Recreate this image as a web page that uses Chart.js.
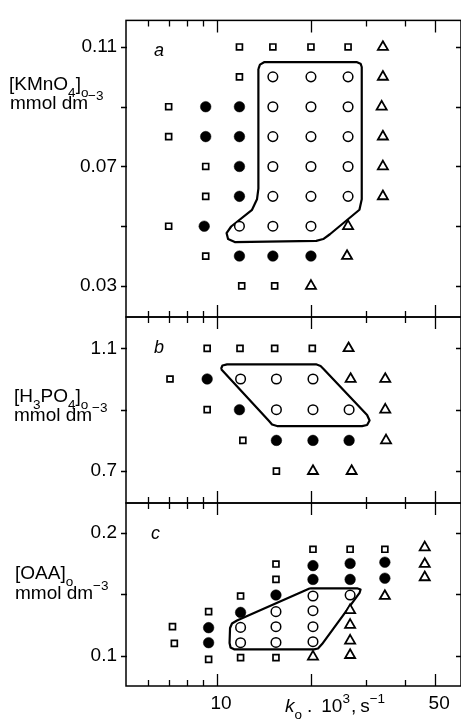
<!DOCTYPE html>
<html>
<head>
<meta charset="utf-8">
<script src="https://cdn.jsdelivr.net/npm/chart.js@4.4.1/dist/chart.umd.min.js"></script>
<style>
  html, body { margin: 0; padding: 0; background: #fff; }
  body { width: 461px; height: 724px; position: relative; overflow: hidden; }
  canvas { position: absolute; left: 0; top: 0; }
</style>
</head>
<body>
<canvas id="panel-a" width="461" height="724"></canvas>
<canvas id="panel-b" width="461" height="724"></canvas>
<canvas id="panel-c" width="461" height="724"></canvas>
<script>
'use strict';

/* ===================================================
   Data
   x = k0 . 10^3 (s^-1), log axis shared by the three panels
   =================================================== */
const xRange = [5.11, 60.5];
const xTickValues = [6, 7, 8, 9, 10, 20, 30, 40, 50];
const xLongTicks = [10, 20, 50];
const xLabelledTicks = [10, 50];
const xTickLabels = ['10', '50'];

// panel a : [KMnO4]o
const aRange = [0.0196, 0.1189];
const aTickValues = [0.03, 0.05, 0.07, 0.09, 0.11];
const aLabelledTicks = [0.03, 0.07, 0.11];
const aTickLabels = ['0.03', '0.07', '0.11'];
const aSquares = [[11.8, 0.11], [15.1, 0.11], [20, 0.11], [26.3, 0.11], [11.8, 0.10],
  [7, 0.09], [7, 0.08], [9.2, 0.07], [9.2, 0.06], [7, 0.05], [9.2, 0.04], [12, 0.03], [15.3, 0.03]];
const aFilled = [[9.2, 0.09], [11.8, 0.09], [9.2, 0.08], [11.8, 0.08], [11.8, 0.07], [11.8, 0.06],
  [9.1, 0.05], [11.8, 0.04], [15.1, 0.04], [20, 0.04]];
const aOpen = [[15.1, 0.10], [20, 0.10], [26.3, 0.10], [15.1, 0.09], [20, 0.09], [26.3, 0.09],
  [15.1, 0.08], [20, 0.08], [26.3, 0.08], [15.1, 0.07], [20, 0.07], [26.3, 0.07],
  [15.1, 0.06], [20, 0.06], [26.3, 0.06], [11.8, 0.05], [15.1, 0.05], [20, 0.05]];
const aTriangles = [[34, 0.11], [34, 0.10], [33.7, 0.09], [34, 0.08], [34, 0.07], [34, 0.06],
  [26.3, 0.05], [26.1, 0.04], [20, 0.03]];
const aOutline = [[13.57, 0.1026], [13.73, 0.1041], [14.15, 0.1049], [28.1, 0.1049], [28.84, 0.1044],
  [29.09, 0.1033], [29.09, 0.0590], [28.6, 0.0555], [23.0, 0.0473], [21.9, 0.0457], [20.8, 0.0451],
  [11.4, 0.0447], [10.85, 0.0457], [10.73, 0.0477], [11.1, 0.0499], [12.95, 0.0555], [13.43, 0.0590],
  [13.57, 0.0626]];

// panel b : [H3PO4]o
const bRange = [0.596, 1.202];
const bTickValues = [0.7, 0.9, 1.1];
const bLabelledTicks = [0.7, 1.1];
const bTickLabels = ['0.7', '1.1'];
const bSquares = [[9.3, 1.1], [11.85, 1.1], [15.3, 1.1], [20.2, 1.1], [7.07, 1.0], [9.3, 0.9],
  [12.1, 0.8], [15.5, 0.7]];
const bFilled = [[9.3, 1.0], [11.8, 0.9], [15.5, 0.8], [20.3, 0.8], [26.5, 0.8]];
const bOpen = [[11.9, 1.0], [15.5, 1.0], [20.3, 1.0], [15.5, 0.9], [20.3, 0.9], [26.5, 0.9]];
const bTriangles = [[26.4, 1.1], [26.8, 1.0], [34.6, 1.0], [34.6, 0.9], [34.8, 0.8], [20.3, 0.7], [27, 0.7]];
const bOutline = [[10.30, 1.0325], [10.41, 1.0439], [10.77, 1.0478], [20.76, 1.0478], [21.47, 1.0423],
  [21.95, 1.0325], [30.26, 0.8826], [30.82, 0.8646], [30.26, 0.850], [29.16, 0.8467], [15.57, 0.8467],
  [15.01, 0.8516], [14.68, 0.863]];

// panel c : [OAA]o
const cRange = [0.0754, 0.2241];
const cTickValues = [0.1, 0.15, 0.2];
const cLabelledTicks = [0.1, 0.2];
const cTickLabels = ['0.1', '0.2'];
const cSquares = [[7.2, 0.1236], [7.3, 0.110], [9.4, 0.1358], [9.4, 0.097], [11.9, 0.1485], [11.9, 0.0984],
  [15.45, 0.1745], [15.45, 0.162], [15.45, 0.0984], [20.3, 0.1865], [26.7, 0.1865], [34.5, 0.1865]];
const cFilled = [[9.4, 0.1228], [9.4, 0.1106], [11.9, 0.1352], [15.45, 0.1493], [20.3, 0.1732], [20.3, 0.162],
  [26.7, 0.175], [26.7, 0.162], [34.5, 0.176], [34.5, 0.163]];
const cOpen = [[11.9, 0.123], [11.9, 0.1106], [15.45, 0.1358], [15.45, 0.1236], [15.45, 0.1108],
  [20.3, 0.1485], [20.3, 0.1366], [20.3, 0.1236], [20.3, 0.1114], [26.7, 0.1493]];
const cTriangles = [[20.3, 0.0992], [26.7, 0.137], [26.7, 0.125], [26.7, 0.1122], [26.7, 0.1005],
  [34.5, 0.1485], [46.3, 0.188], [46.3, 0.1745], [46.3, 0.1637]];
const cOutline = [[19.87, 0.1548], [28.1, 0.1548], [28.84, 0.1538], [28.62, 0.151], [21.71, 0.1095],
  [21.07, 0.1059], [20.46, 0.1052], [11.34, 0.1052], [11.05, 0.1067], [10.97, 0.1103], [11.01, 0.1225],
  [11.17, 0.1262], [11.59, 0.1286]];

/* ===================================================
   Shared helpers
   =================================================== */
const FONT = "'Liberation Sans', Arial, Helvetica, sans-serif";
Chart.defaults.font.family = FONT;
Chart.defaults.color = '#000';

function toXY(pairs) {
  return pairs.map(p => ({ x: p[0], y: p[1] }));
}

// text runs: [text, kind, extra gap]  kind: n | i | sub | sup
function drawRuns(ctx, runs, x, y) {
  runs.forEach(([text, kind, gap]) => {
    x += gap || 0;
    let size = 19, dy = 0, style = '';
    if (kind === 'sub') { size = 13.5; dy = 7; }
    if (kind === 'sup') { size = 13.5; dy = -9; }
    if (kind === 'i') style = 'italic ';
    ctx.font = style + size + 'px ' + FONT;
    ctx.fillText(text, x, y + dy);
    x += ctx.measureText(text).width;
  });
}

/* frame, inward ticks and the hand-set texts of a panel */
const frameTicks = {
  id: 'frameTicks',
  afterDraw(chart, args, opts) {
    const { ctx, chartArea: { left, right, top, bottom }, scales: { x, y } } = chart;
    ctx.save();
    ctx.strokeStyle = '#000';
    ctx.fillStyle = '#000';
    ctx.lineWidth = 1.5;
    ctx.strokeRect(left, top, right - left, bottom - top);

    ctx.lineWidth = 1.3;
    ctx.beginPath();
    xTickValues.forEach(v => {
      const px = Math.round(x.getPixelForValue(v)) + 0.5;
      const len = xLongTicks.includes(v) ? 12 : 6;
      ctx.moveTo(px, top); ctx.lineTo(px, top + len);
      ctx.moveTo(px, bottom); ctx.lineTo(px, bottom - len);
    });
    opts.yTicks.forEach(v => {
      const py = Math.round(y.getPixelForValue(v)) + 0.5;
      ctx.moveTo(left - 5, py); ctx.lineTo(left + 1, py);
      ctx.moveTo(right, py); ctx.lineTo(right - 5, py);
    });
    ctx.stroke();

    ctx.textBaseline = 'alphabetic';
    ctx.textAlign = 'left';
    ctx.font = 'italic 18px ' + FONT;
    ctx.fillText(opts.letter, left + opts.letterDx, top + 35.5);

    opts.title.forEach(line => drawRuns(ctx, line.runs, line.x, line.y));
    ctx.restore();
  }
};

function markerSets(sq, filled, open, tri, outline) {
  const common = { pointBorderColor: '#000', showLine: false };
  return [
    { ...common, data: toXY(sq), pointStyle: 'rect', pointRadius: 4.2, pointBorderWidth: 1.7, pointBackgroundColor: '#fff' },
    { ...common, data: toXY(filled), pointStyle: 'circle', pointRadius: 5.3, pointBorderWidth: 0.5, pointBackgroundColor: '#000' },
    { ...common, data: toXY(open), pointStyle: 'circle', pointRadius: 4.8, pointBorderWidth: 1.5, pointBackgroundColor: '#fff' },
    { ...common, data: toXY(tri), pointStyle: 'triangle', pointRadius: 5.8, pointBorderWidth: 1.8, pointBackgroundColor: '#fff' },
    {
      data: toXY(outline.concat([outline[0]])), showLine: true, pointRadius: 0,
      borderColor: '#000', borderWidth: 2.2, borderJoinStyle: 'round', tension: 0, fill: false
    }
  ];
}

function makePanel(id, p) {
  const canvas = document.getElementById(id);
  return new Chart(canvas.getContext('2d'), {
    type: 'scatter',
    data: { datasets: markerSets(p.squares, p.filled, p.open, p.triangles, p.outline) },
    options: {
      responsive: false,
      animation: false,
      events: [],
      layout: { autoPadding: false, padding: { left: 0, right: 0, top: p.top, bottom: p.bottomPad } },
      plugins: {
        legend: { display: false },
        tooltip: { enabled: false },
        frameTicks: { yTicks: p.yTicks, letter: p.letter, letterDx: p.letterDx, title: p.title }
      },
      scales: {
        x: {
          type: 'logarithmic',
          min: xRange[0], max: xRange[1],
          display: p.showX,
          grid: { display: false, drawTicks: false },
          border: { display: false },
          afterFit: s => { s.height = p.showX ? 38 : 0; },
          afterBuildTicks: s => { s.ticks = xTickValues.map(v => ({ value: v })); },
          ticks: {
            autoSkip: false, maxRotation: 0, minRotation: 0, padding: 6, labelOffset: 4,
            font: { size: 19 }, color: '#000',
            callback: v => {
              const i = xLabelledTicks.indexOf(v);
              return i < 0 ? '' : xTickLabels[i];
            }
          }
        },
        y: {
          type: 'linear',
          min: p.range[0], max: p.range[1],
          grid: { display: false, drawTicks: false },
          border: { display: false },
          afterFit: s => { s.width = 126; },
          afterBuildTicks: s => { s.ticks = p.labelled.map(v => ({ value: v })); },
          ticks: {
            padding: 9, font: { size: 19 }, color: '#000',
            callback: (v, i) => p.labels[i]
          }
        }
      }
    },
    plugins: [frameTicks]
  });
}

makePanel('panel-a', {
  squares: aSquares, filled: aFilled, open: aOpen, triangles: aTriangles, outline: aOutline,
  range: aRange, yTicks: aTickValues, labelled: aLabelledTicks, labels: aTickLabels,
  top: 12, bottomPad: 724 - 317, showX: false, letter: 'a', letterDx: 28,
  title: [
    { x: 9, y: 90, runs: [['[KMnO', 'n'], ['4', 'sub'], [']', 'n'], ['o', 'sub']] },
    { x: 10, y: 108.5, runs: [['mmol dm', 'n'], ['\u22123', 'sup']] }
  ]
});

makePanel('panel-b', {
  squares: bSquares, filled: bFilled, open: bOpen, triangles: bTriangles, outline: bOutline,
  range: bRange, yTicks: bTickValues, labelled: bLabelledTicks, labels: bTickLabels,
  top: 317, bottomPad: 724 - 503, showX: false, letter: 'b', letterDx: 28,
  title: [
    { x: 14, y: 401.5, runs: [['[H', 'n'], ['3', 'sub'], ['PO', 'n'], ['4', 'sub'], [']', 'n'], ['o', 'sub']] },
    { x: 14, y: 421, runs: [['mmol dm', 'n'], ['\u22123', 'sup']] }
  ]
});

makePanel('panel-c', {
  squares: cSquares, filled: cFilled, open: cOpen, triangles: cTriangles, outline: cOutline,
  range: cRange, yTicks: cTickValues, labelled: cLabelledTicks, labels: cTickLabels,
  top: 503, bottomPad: 0, showX: true, letter: 'c', letterDx: 25,
  title: [
    { x: 15, y: 578.5, runs: [['[OAA]', 'n'], ['o', 'sub']] },
    { x: 15, y: 599, runs: [['mmol dm', 'n'], ['\u22123', 'sup']] },
    { x: 285, y: 711.5, runs: [['k', 'i'], ['o', 'sub'], ['.', 'n', 5], ['10', 'n', 9], ['3', 'sup'],
      [',', 'n', 1], ['s', 'n', 4], ['\u22121', 'sup']] }
  ]
});
</script>
</body>
</html>
